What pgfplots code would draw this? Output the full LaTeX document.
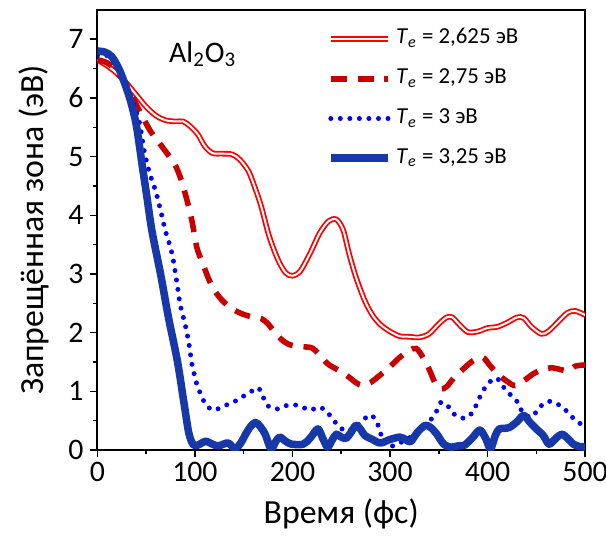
\documentclass[border=0pt]{standalone}
\usepackage{pgfplots}
\pgfplotsset{compat=1.18}
\usepackage{fontspec}
\setmainfont{Carlito}
\definecolor{cRed}{RGB}{255,0,0}
\definecolor{cDark}{RGB}{200,0,0}
\definecolor{cDot}{RGB}{0,0,255}
\definecolor{cThick}{RGB}{22,56,168}
\newcommand{\Te}{\textit{T}\textsubscript{\textit{e}}}
\begin{document}
\begin{tikzpicture}
\useasboundingbox (-49pt,-43pt) rectangle (256pt,226.5pt);
\begin{axis}[
    at={(0,0)}, anchor=south west,
    scale only axis,
    width=245.5pt, height=221.5pt,
    xmin=0, xmax=500,
    ymin=0, ymax=7.5,
    xtick={0,100,...,500},
    ytick={0,1,...,7},
    minor x tick num=1,
    minor y tick num=1,
    tick align=outside,
    tick pos=left,
    major tick length=3.5pt,
    minor tick length=2pt,
    axis line style={line width=0.9pt},
    every tick/.style={black, line width=0.8pt},
    tick label style={font=\fontsize{15}{17}\selectfont},
    xticklabel style={yshift=1pt},
    /pgf/number format/assume math mode=true,
    xlabel={Время (фс)},
    ylabel={Запрещённая зона (эВ)},
    label style={font=\fontsize{17}{19}\selectfont},
    xlabel style={yshift=-2pt},
    ylabel style={yshift=3pt},
    legend cell align=left,
    legend style={draw=none, fill=none, at={(0.47,0.98)}, anchor=north west,
        font=\fontsize{11.5}{13}\selectfont, row sep=0pt, inner sep=0pt,
        nodes={text height=8pt, text depth=3pt}},
    legend image code/.code={\path[draw=none, fill=none] (0pt,-10pt) rectangle (29pt,10pt);
        \draw[#1] (0pt,0pt) -- (29pt,0pt);},
]

% T_e = 2,625 eV
\addplot[cRed, line width=0.9pt, double=white, double distance=1.0pt, smooth, tension=0.5] coordinates {
(0,6.65) (10,6.55) (20,6.42) (30,6.25) (40,6.05) (50,5.85) (60,5.7) (70,5.62)
(80,5.6) (88,5.6) (95,5.52) (103,5.38) (110,5.18) (118,5.06) (128,5.05) (138,5.04)
(146,4.95) (155,4.75) (162,4.45) (168,4.15) (176,3.65) (185,3.25) (193,3.02) (200,2.97)
(208,3.05) (218,3.35) (228,3.7) (237,3.9) (245,3.93) (252,3.75) (258,3.35) (265,2.95)
(274,2.55) (282,2.3) (290,2.14) (300,2.02) (310,1.94) (320,1.93) (330,1.92) (340,1.98)
(350,2.15) (358,2.26) (364,2.26) (372,2.12) (380,2.01) (390,2.02) (400,2.08) (410,2.1)
(420,2.17) (430,2.26) (437,2.25) (445,2.1) (455,1.98) (462,2.02) (472,2.18) (482,2.34)
(490,2.37) (500,2.3)
};
\addlegendentry{\Te{} = 2,625 эВ}

% T_e = 2,75 eV
\addplot[cDark, line width=2.8pt, dash pattern=on 8pt off 5.5pt, smooth, tension=0.5] coordinates {
(0,6.65) (10,6.6) (20,6.45) (30,6.2) (38,5.95) (45,5.72) (55,5.42) (65,5.2)
(73,5.02) (80,4.85) (86,4.6) (92,4.25) (97,3.9) (102,3.45) (108,3.18) (114,2.92)
(120,2.72) (128,2.55) (137,2.42) (147,2.33) (158,2.27) (168,2.24) (175,2.15) (183,1.98)
(192,1.84) (200,1.78) (210,1.76) (220,1.74) (228,1.62) (236,1.47) (245,1.38) (255,1.28)
(265,1.15) (272,1.1) (280,1.15) (290,1.28) (300,1.42) (310,1.58) (320,1.7) (327,1.73)
(333,1.6) (340,1.38) (346,1.15) (352,1.04) (358,1.08) (365,1.22) (375,1.38) (385,1.52)
(395,1.58) (402,1.45) (410,1.3) (420,1.17) (428,1.1) (437,1.18) (447,1.3) (457,1.38)
(467,1.4) (475,1.37) (483,1.35) (490,1.43) (500,1.45)
};
\addlegendentry{\Te{} = 2,75 эВ}

% T_e = 3 eV
\addplot[cDot, line width=2.5pt, line cap=round, dash pattern=on 0pt off 4.8pt, smooth, tension=0.5] coordinates {
(0,6.72) (10,6.72) (20,6.6) (28,6.3) (36,5.95) (43,5.59) (48,5.1) (53,4.75)
(60,4.4) (65,4.07) (70,3.72) (75,3.45) (78,3.22) (82,2.8) (85,2.47) (90,2.14)
(94,1.8) (97,1.46) (102,1.12) (106,0.95) (111,0.78) (119,0.68) (131,0.76) (140,0.82)
(148,0.9) (158,1.0) (165,1.06) (170,0.9) (175,0.75) (185,0.7) (196,0.77) (206,0.76)
(218,0.68) (226,0.73) (234,0.68) (241,0.53) (247,0.42) (255,0.32) (265,0.4) (275,0.55)
(280,0.6) (286,0.5) (290,0.3) (294,0.12) (300,0.06) (310,0.12) (321,0.22) (330,0.35)
(340,0.48) (348,0.67) (352,0.81) (358,0.78) (365,0.62) (376,0.54) (384,0.63) (389,0.79)
(394,0.97) (399,1.1) (405,1.2) (410,1.22) (416,1.08) (423,0.95) (430,0.83) (435,0.67)
(443,0.56) (448,0.6) (452,0.71) (462,0.83) (472,0.78) (480,0.68) (488,0.54) (495,0.45)
};
\addlegendentry{\Te{} = 3 эВ}

% T_e = 3,25 eV
\addplot[cThick, line width=3.8pt, line join=round, smooth, tension=0.5] coordinates {
(0,6.8) (8,6.78) (15,6.7) (22,6.5) (28,6.25) (34,5.95) (40,5.53) (46,4.85)
(51,4.29) (56,3.73) (65,2.98) (73,2.25) (82,1.52) (89,0.78) (94,0.27) (99,0.08)
(105,0.1) (111,0.15) (118,0.1) (124,0.07) (134,0.12) (141,0.02) (147,0.12) (152,0.27)
(157,0.4) (162,0.47) (167,0.4) (172,0.27) (178,0.02) (183,0.15) (187,0.22) (193,0.15)
(199,0.1) (211,0.1) (218,0.2) (226,0.36) (231,0.2) (236,0.05) (241,0.18) (245,0.27)
(250,0.22) (255,0.2) (260,0.3) (265,0.42) (270,0.35) (274,0.25) (282,0.18) (290,0.12)
(300,0.18) (310,0.22) (316,0.18) (321,0.14) (328,0.3) (336,0.42) (342,0.38) (348,0.27)
(355,0.1) (362,0.05) (370,0.07) (376,0.08) (384,0.2) (392,0.34) (398,0.2) (403,0.02)
(408,0.25) (412,0.36) (418,0.37) (423,0.39) (430,0.48) (437,0.59) (443,0.48) (450,0.36)
(457,0.25) (463,0.1) (470,0.2) (476,0.27) (482,0.2) (488,0.1) (494,0.06) (500,0.05)
};
\addlegendentry{\Te{} = 3,25 эВ}

\node[font=\fontsize{15}{17}\selectfont] at (axis cs:108,6.75) {Al\textsubscript{2}O\textsubscript{3}};
\end{axis}
\end{tikzpicture}
\end{document}
